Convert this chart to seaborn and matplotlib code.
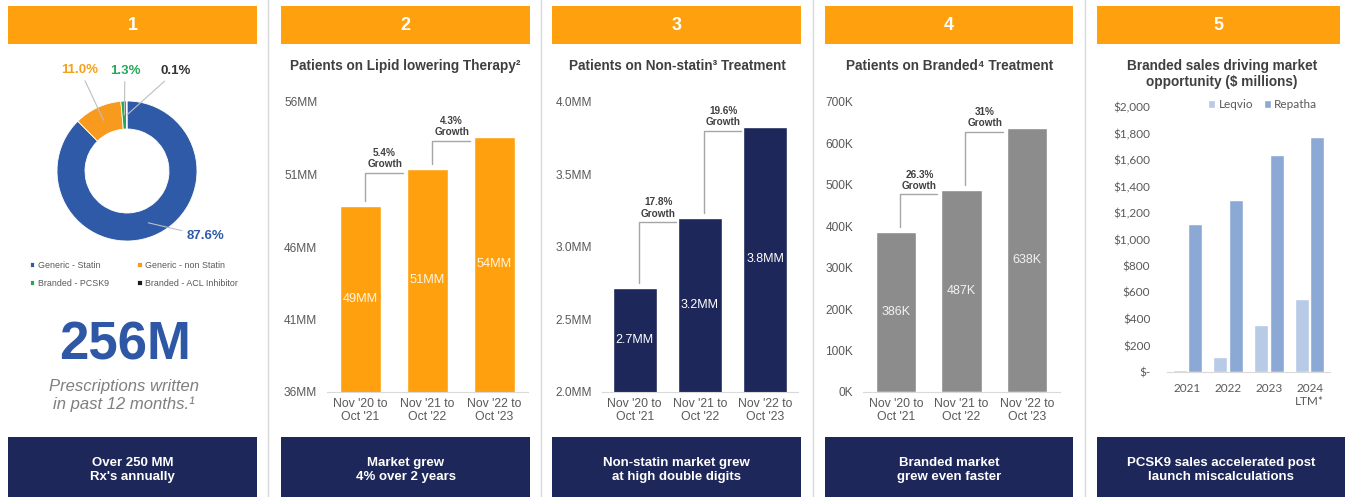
import numpy as np
import pandas as pd
import matplotlib
matplotlib.use("Agg")
import matplotlib.pyplot as plt
from matplotlib.patches import Rectangle
import seaborn as sns

# ---------------- data ----------------
share_labels = ["Generic - Statin", "Generic - non Statin", "Branded - PCSK9", "Branded - ACL Inhibitor"]
share_values = [87.6, 11.0, 1.3, 0.1]
share_text = ["87.6%", "11.0%", "1.3%", "0.1%"]

periods = ["Nov '20 to\nOct '21", "Nov '21 to\nOct '22", "Nov '22 to\nOct '23"]

lipid_patients = [48.8, 51.4, 53.6]
lipid_labels = ["49MM", "51MM", "54MM"]
lipid_growth = ["5.4%\nGrowth", "4.3%\nGrowth"]
lipid_ticks = [36, 41, 46, 51, 56]
lipid_ticklabels = ["36MM", "41MM", "46MM", "51MM", "56MM"]

nonstatin_patients = [2.72, 3.20, 3.83]
nonstatin_labels = ["2.7MM", "3.2MM", "3.8MM"]
nonstatin_growth = ["17.8%\nGrowth", "19.6%\nGrowth"]
nonstatin_ticks = [2.0, 2.5, 3.0, 3.5, 4.0]
nonstatin_ticklabels = ["2.0MM", "2.5MM", "3.0MM", "3.5MM", "4.0MM"]

branded_patients = [386, 487, 638]
branded_labels = ["386K", "487K", "638K"]
branded_growth = ["26.3%\nGrowth", "31%\nGrowth"]
branded_ticks = [0, 100, 200, 300, 400, 500, 600, 700]
branded_ticklabels = ["0K", "100K", "200K", "300K", "400K", "500K", "600K", "700K"]

years = ["2021", "2022", "2023", "2024\nLTM*"]
leqvio_sales = [12, 113, 355, 548]
repatha_sales = [1120, 1295, 1635, 1770]
sales_ticks = [0, 200, 400, 600, 800, 1000, 1200, 1400, 1600, 1800, 2000]
sales_ticklabels = ["$-", "$200", "$400", "$600", "$800", "$1,000", "$1,200",
                    "$1,400", "$1,600", "$1,800", "$2,000"]

header_numbers = ["1", "2", "3", "4", "5"]
panel_titles = ["", "Patients on Lipid lowering Therapy\u00b2", "Patients on Non-statin\u00b3 Treatment",
                "Patients on Branded\u2074 Treatment", "Branded sales driving market\nopportunity ($ millions)"]
footer_texts = ["Over 250 MM\nRx's annually", "Market grew\n4% over 2 years",
                "Non-statin market grew\nat high double digits", "Branded market\ngrew even faster",
                "PCSK9 sales accelerated post\nlaunch miscalculations"]

# ---------------- style ----------------
sns.set_style("white")
plt.rcParams["font.family"] = ["Liberation Sans", "DejaVu Sans"]

ORANGE = "#FFA00F"
NAVY = "#1E2759"
GRAY_BAR = "#8C8C8C"
TXT = "#404040"
TICK = "#595959"

W, H = 1345, 497
fig = plt.figure(figsize=(W / 100, H / 100), dpi=100)
fig.patch.set_facecolor("white")


def px_axes(x0, y0, x1, y1):
    return fig.add_axes([x0 / W, 1 - y1 / H, (x1 - x0) / W, (y1 - y0) / H])


# background / decoration axes in pixel coordinates
bg = fig.add_axes([0, 0, 1, 1])
bg.set_xlim(0, W)
bg.set_ylim(H, 0)
bg.axis("off")

lefts = [8, 281, 552, 825, 1097]
rights = [257, 530, 801, 1073, 1340]
for x in [268, 541, 813, 1085]:
    bg.plot([x, x], [0, H], color="#D9D9D9", lw=1)
for i in range(5):
    l, r = lefts[i], rights[i]
    bg.add_patch(Rectangle((l, 6), r - l, 38, color=ORANGE, lw=0))
    bg.text((l + r) / 2, 26, header_numbers[i], ha="center", va="center",
            color="white", fontsize=13, fontweight="bold")
    rr = W if i == 4 else r
    bg.add_patch(Rectangle((l, 437), rr - l, H - 437 + 2, color=NAVY, lw=0))
    bg.text((l + rr) / 2, 470, footer_texts[i], ha="center", va="center",
            color="white", fontsize=9.5, fontweight="bold", linespacing=1.15)

title_x = [0, 405, 677, 950, 1222]
for i in range(1, 4):
    bg.text(title_x[i], 66, panel_titles[i], ha="center", va="center",
            color=TXT, fontsize=9.8, fontweight="bold")
bg.text(title_x[4], 74, panel_titles[4], ha="center", va="center",
        color=TXT, fontsize=9.8, fontweight="bold", linespacing=1.15)

# ---------------- panel 1: donut ----------------
axp = px_axes(57, 101, 197, 241)
pie_colors = ["#2F5AA8", "#F79A1E", "#22A95B", "#1A1A1A"]
label_colors = ["#2F5AA8", "#F5A11C", "#22A95B", "#333333"]
wedges, _ = axp.pie(share_values, colors=pie_colors, startangle=90, counterclock=False,
                    radius=1, wedgeprops=dict(width=0.4, edgecolor="white", linewidth=0.6))
axp.set_xlim(-1, 1)
axp.set_ylim(-1, 1)
label_pos = [(1.12, -0.93), (-0.67, 1.44), (-0.03, 1.43), (0.70, 1.43)]
for w, txt, pos, col in zip(wedges, share_text, label_pos, label_colors):
    ang = np.deg2rad((w.theta1 + w.theta2) / 2)
    axp.annotate(txt, xy=(0.8 * np.cos(ang), 0.8 * np.sin(ang)), xytext=pos,
                 ha="center", va="center", color=col, fontsize=9.5, fontweight="bold",
                 annotation_clip=False,
                 arrowprops=dict(arrowstyle="-", color="#BFBFBF", lw=0.8, shrinkA=1, shrinkB=0))
# matplotlib fills legend columns first; reorder so rows read as in the reference
order = [0, 2, 1, 3]
axp.legend([wedges[k] for k in order], [share_labels[k] for k in order], ncol=2,
           loc="upper left",
           bbox_to_anchor=(30 / W, 1 - 261 / H), bbox_transform=fig.transFigure,
           frameon=False, fontsize=6.4, handlelength=0.5, handleheight=0.5,
           handletextpad=0.4, columnspacing=3.2, borderpad=0, borderaxespad=0,
           labelspacing=1.0, labelcolor=TICK)

bg.text(125, 345, "256M", ha="center", va="center", color="#2E58A6",
        fontsize=38, fontweight="bold")
bg.text(124, 396, "Prescriptions written\nin past 12 months.\u00b9", ha="center", va="center",
        color="#7F7F7F", fontsize=12, style="italic", linespacing=1.2)


# ---------------- panels 2-4: bar charts ----------------
def bar_panel(rect, values, vlabels, growth, ticks, ticklabels, color, width, vfs, vcolor):
    ax = px_axes(*rect)
    ax.set_facecolor("none")
    df = pd.DataFrame({"period": periods, "value": values})
    sns.barplot(data=df, x="period", y="value", color=color, width=width,
                saturation=1, ax=ax)
    ymin, ymax = ticks[0], ticks[-1]
    ax.set_ylim(ymin, ymax)
    ax.set_xlim(-0.5, 2.5)
    ax.set_yticks(ticks, ticklabels)
    ax.set_xticks(range(len(periods)), periods)
    ax.set_xlabel("")
    ax.set_ylabel("")
    for s in ["left", "top", "right"]:
        ax.spines[s].set_visible(False)
    ax.spines["bottom"].set_color("#D9D9D9")
    ax.tick_params(axis="y", length=0, pad=7, labelsize=8.6, labelcolor=TICK)
    ax.tick_params(axis="x", length=0, pad=4, labelsize=8.8, labelcolor=TICK)
    upp = (ymax - ymin) / (rect[3] - rect[1])
    for i, (v, lab) in enumerate(zip(values, vlabels)):
        ax.text(i, (ymin + v) / 2, lab, ha="center", va="center", color=vcolor, fontsize=vfs)
    for i, g in enumerate(growth):
        y0 = values[i] + 5 * upp
        y1 = values[i + 1] - 4 * upp
        ax.plot([i + 0.06, i + 0.06, i + 1 - 0.37], [y0, y1, y1], color="#A6A6A6", lw=1,
                clip_on=False)
        ax.annotate(g, xy=(i + 0.36, y1), xytext=(0, 2.5), textcoords="offset points",
                    ha="center", va="bottom", fontsize=7.2, fontweight="bold", color=TXT,
                    linespacing=1.15, annotation_clip=False)
    return ax


bar_panel((327, 102, 528, 392), lipid_patients, lipid_labels, lipid_growth, lipid_ticks,
          lipid_ticklabels, ORANGE, 0.61, 9.2, "#FFF6E6")
bar_panel((602, 102, 798, 392), nonstatin_patients, nonstatin_labels, nonstatin_growth,
          nonstatin_ticks, nonstatin_ticklabels, NAVY, 0.67, 9, "white")
bar_panel((863, 102, 1060, 392), branded_patients, branded_labels, branded_growth,
          branded_ticks, branded_ticklabels, GRAY_BAR, 0.61, 9, "#F2F2F2")

# ---------------- panel 5: grouped bars ----------------
ax5 = px_axes(1167, 107, 1330, 372)
ax5.set_facecolor("none")
df5 = pd.DataFrame({"year": years * 2,
                    "sales": leqvio_sales + repatha_sales,
                    "product": ["Leqvio"] * len(years) + ["Repatha"] * len(years)})
sns.barplot(data=df5, x="year", y="sales", hue="product", palette=["#B7CAE6", "#8CA9D6"],
            width=0.76, gap=0.1, saturation=1, ax=ax5)
ax5.set_ylim(sales_ticks[0], sales_ticks[-1])
ax5.set_xlim(-0.5, len(years) - 0.5)
ax5.set_yticks(sales_ticks, sales_ticklabels)
ax5.set_xticks(range(len(years)), years)
ax5.set_xlabel("")
ax5.set_ylabel("")
for s in ["left", "top", "right"]:
    ax5.spines[s].set_visible(False)
ax5.spines["bottom"].set_color("#D9D9D9")
ax5.tick_params(axis="y", length=0, pad=12, labelsize=8.5, labelcolor=TICK)
ax5.tick_params(axis="x", length=0, pad=8, labelsize=8.5, labelcolor=TICK)
for lab in ax5.get_xticklabels() + ax5.get_yticklabels():
    lab.set_fontfamily(["Lato", "DejaVu Sans"])
ax5.legend(loc="upper left", bbox_to_anchor=(0.25, 1.03), ncol=2, frameon=False,
           prop={"family": ["Lato", "DejaVu Sans"], "size": 8.5},
           handlelength=0.6, handleheight=0.6, handletextpad=0.3, columnspacing=0.9,
           borderpad=0, borderaxespad=0, labelcolor=TICK)

fig.savefig("out.png", dpi=100)
